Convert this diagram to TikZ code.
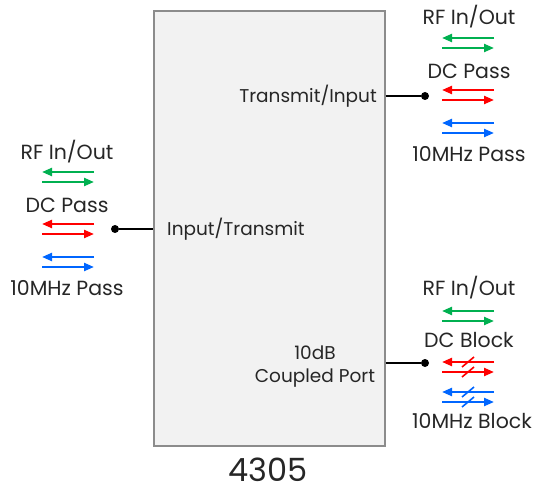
\documentclass[tikz,border=0pt]{standalone}
\usepackage{fontspec}
\setmainfont{Poppins}
\usetikzlibrary{arrows.meta}
\definecolor{cgreen}{HTML}{00B050}
\definecolor{cred}{HTML}{FF0000}
\definecolor{cblue}{HTML}{0066FF}
\definecolor{boxfill}{HTML}{F2F2F2}
\definecolor{boxline}{HTML}{8C8C8C}
\tikzset{
  lbl/.style={inner sep=0pt, font=\fontsize{20.5}{24}\selectfont, text=black!85},
  ilbl/.style={inner sep=0pt, font=\fontsize{18.5}{23}\selectfont, text=black!85},
  arr/.style={line width=2.2pt, -{Triangle[length=10pt,width=8pt]}},
  pairarrow/.pic={
    \draw[arr] (26,-5) -- (-26,-5);
    \draw[arr] (-26,5) -- (26,5);
  },
  blockarrow/.pic={
    \draw[arr] (26,-5) -- (-26,-5);
    \draw[arr] (-26,5) -- (26,5);
    \draw[line width=1.6pt] (-6,0) -- (6,-10);
    \draw[line width=1.6pt] (-6,10) -- (6,0);
  },
  wire/.style={line width=1.8pt, black},
  dot/.style={circle, fill=black, inner sep=0pt, minimum size=8pt}
}
\begin{document}
\begin{tikzpicture}[x=1pt,y=-1pt]
\useasboundingbox (0,0) rectangle (536,492);
\node[draw=boxline, fill=boxfill, line width=1.2pt, minimum width=231pt, minimum height=435pt, inner sep=0pt] (box) at (269.5,228.5) {};
\node[inner sep=0pt, font=\fontsize{32}{36}\selectfont, text=black!85] (num) at (268,470) {4305};

% internal labels
\node[ilbl, anchor=east] (ti) at (377,96) {Transmit/Input};
\node[ilbl, anchor=west] (it) at (167,229) {Input/Transmit};
\node[ilbl, align=center] (cp) at (315,367) {10dB\\Coupled Port};

% top right
\node[lbl] (rf1) at (469,17) {RF In/Out};
\pic[color=cgreen] at (468,43) {pairarrow};
\node[lbl] (dc1) at (469,71) {DC Pass};
\pic[color=cred] at (468,95) {pairarrow};
\pic[color=cblue] at (468,128) {pairarrow};
\node[lbl] (mhz1) at (469,154) {10MHz Pass};
\node[dot] (d1) at (425,96) {};
\draw[wire] (box.east |- d1) -- (d1);

% left
\node[lbl] (rf2) at (67,152) {RF In/Out};
\pic[color=cgreen] at (68,177) {pairarrow};
\node[lbl] (dc2) at (67,205) {DC Pass};
\pic[color=cred] at (68,229) {pairarrow};
\pic[color=cblue] at (68,262) {pairarrow};
\node[lbl] (mhz2) at (67,288) {10MHz Pass};
\node[dot] (d2) at (115,229) {};
\draw[wire] (d2) -- (box.west |- d2);

% bottom right
\node[lbl] (rf3) at (469,288) {RF In/Out};
\pic[color=cgreen] at (468,316) {pairarrow};
\node[lbl] (dc3) at (469,340) {DC Block};
\pic[color=cred] at (468,367) {blockarrow};
\pic[color=cblue] at (468,397) {blockarrow};
\node[lbl] (mhz3) at (472,421) {10MHz Block};
\node[dot] (d3) at (425,363) {};
\draw[wire] (box.east |- d3) -- (d3);
\end{tikzpicture}
\end{document}
